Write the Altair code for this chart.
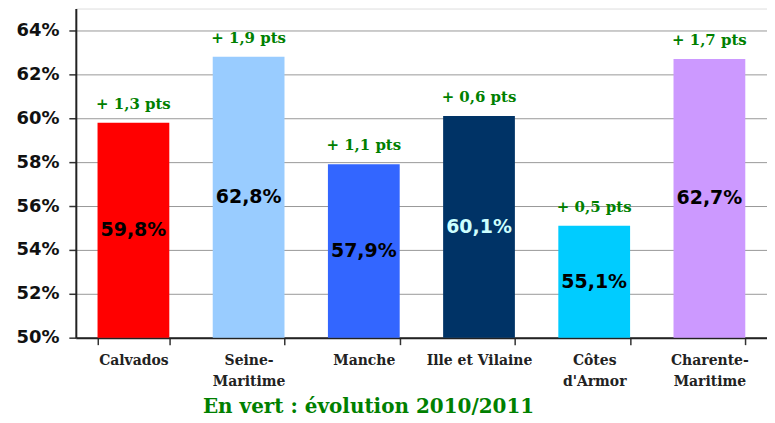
import altair as alt
import pandas as pd

categories = ["Calvados", "Seine-\nMaritime", "Manche", "Ille et Vilaine", "Côtes\nd'Armor", "Charente-\nMaritime"]
values = [59.8, 62.8, 57.9, 60.1, 55.1, 62.7]
changes = ["+ 1,3 pts", "+ 1,9 pts", "+ 1,1 pts", "+ 0,6 pts", "+ 0,5 pts", "+ 1,7 pts"]
bar_colors = ["#FF0000", "#99CCFF", "#3366FF", "#003366", "#00CCFF", "#CC99FF"]
label_colors = ["#000000", "#000000", "#000000", "#CCFFFF", "#000000", "#000000"]
y_ticks = [50, 52, 54, 56, 58, 60, 62, 64]
base_value = 50
top_value = 65

df = pd.DataFrame({
    "cat": categories,
    "value": values,
    "change": changes,
    "color": bar_colors,
    "lcolor": label_colors,
})
df["base"] = base_value
df["mid"] = (df["value"] + base_value) / 2
df["vlabel"] = [f"{v:.1f}".replace(".", ",") + "%" for v in values]

x = alt.X(
    "cat:N",
    sort=categories,
    scale=alt.Scale(paddingInner=0.377, paddingOuter=0.1885),
    axis=alt.Axis(
        title="En vert : évolution 2010/2011",
        titleFont="DejaVu Serif",
        titleFontWeight="bold",
        titleFontSize=20,
        titleColor="#008000",
        titleX=293,
        titleY=75,
        titleAlign="center",
        titleBaseline="alphabetic",
        labelExpr="isValid(datum.value) ? split(datum.value, '\\n') : ''",
        labelFont="DejaVu Serif",
        labelFontWeight="bold",
        labelFontSize=14,
        labelColor="#222222",
        labelLineHeight=21,
        labelAngle=0,
        labelPadding=9,
        tickBand="extent",
        tickSize=7,
        tickColor="#333333",
        tickWidth=1.5,
        domainColor="#222222",
        domainWidth=2,
        grid=False,
    ),
)

y_scale = alt.Scale(domain=[base_value, top_value], zero=False, nice=False)

bars = alt.Chart(df).mark_bar().encode(
    x=x,
    y=alt.Y(
        "value:Q",
        scale=y_scale,
        axis=alt.Axis(
            title=None,
            values=y_ticks,
            labelExpr="datum.value + '%'",
            labelFont="DejaVu Sans",
            labelFontWeight="bold",
            labelFontSize=18,
            labelColor="#111111",
            labelPadding=10,
            tickSize=7,
            tickColor="#333333",
            tickWidth=1.5,
            domainColor="#222222",
            domainWidth=2,
            gridColor="#999999",
            gridWidth=1,
        ),
    ),
    y2="base:Q",
    color=alt.Color("color:N", scale=None),
)

val_text = alt.Chart(df).mark_text(
    font="DejaVu Sans", fontWeight="bold", fontSize=19, baseline="middle"
).encode(
    x=alt.X("cat:N", sort=categories),
    y=alt.Y("mid:Q", scale=y_scale),
    text="vlabel:N",
    color=alt.Color("lcolor:N", scale=None),
)

chg_text = alt.Chart(df).mark_text(
    font="DejaVu Serif", fontWeight="bold", fontSize=15, baseline="alphabetic", dy=-14, color="#008000"
).encode(
    x=alt.X("cat:N", sort=categories),
    y=alt.Y("value:Q", scale=y_scale),
    text="change:N",
)

chart = (
    alt.layer(bars, val_text, chg_text)
    .properties(width=693, height=330, padding={"left": 7, "top": 0, "right": 0, "bottom": 0})
    .configure_view(stroke="#999999", strokeWidth=2)
    .configure(background="white")
)

chart.save("out.html", embed_options={"renderer": "svg", "actions": False})
